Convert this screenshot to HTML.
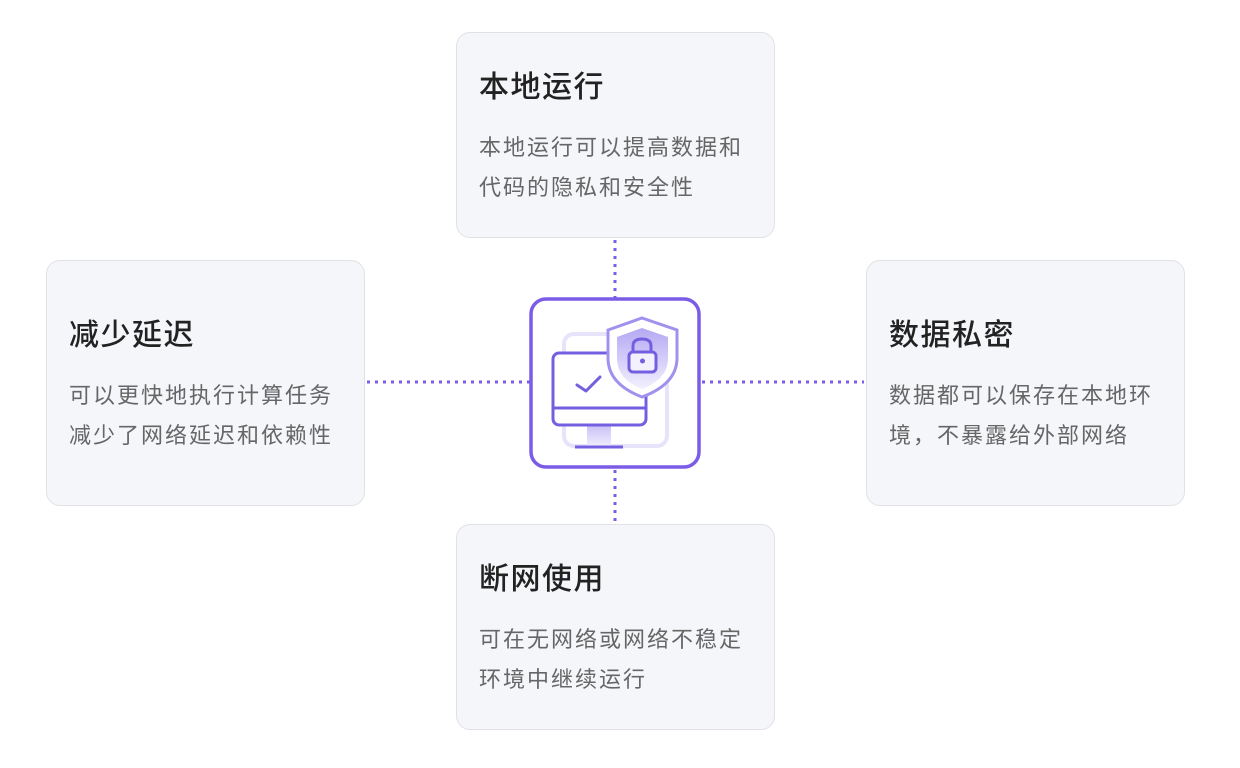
<!DOCTYPE html>
<html><head><meta charset="utf-8"><style>
body{margin:0;width:1240px;height:768px;background:#fff;position:relative;font-family:"Liberation Sans","Noto Sans CJK SC",sans-serif;overflow:hidden}
.card{position:absolute;width:319px;background:#f4f6f9;border:1.5px solid #e0e2e6;border-radius:14px;box-sizing:border-box}
.t{position:absolute;left:22px;font-size:30px;font-weight:500;color:#222;line-height:36px;white-space:nowrap;letter-spacing:1.5px}
.d{position:absolute;left:22px;font-size:22px;color:#666;line-height:40px;white-space:nowrap;letter-spacing:2px}
</style></head><body>
<svg width="1240" height="768" style="position:absolute;left:0;top:0">
<g stroke="#7b5ce6" stroke-width="3" stroke-dasharray="3 5">
<line x1="615" y1="240" x2="615" y2="298"/>
<line x1="615" y1="470" x2="615" y2="524"/>
<line x1="367" y1="382" x2="530" y2="382"/>
<line x1="702" y1="382" x2="864" y2="382"/>
</g>
</svg>
<div class="card" style="left:456px;top:32px;height:206px"><div class="t" style="top:37px">本地运行</div><div class="d" style="top:95px">本地运行可以提高数据和<br>代码的隐私和安全性</div></div>
<div class="card" style="left:46px;top:260px;height:246px"><div class="t" style="top:57px">减少延迟</div><div class="d" style="top:115px">可以更快地执行计算任务<br>减少了网络延迟和依赖性</div></div>
<div class="card" style="left:866px;top:260px;height:246px"><div class="t" style="top:57px">数据私密</div><div class="d" style="top:115px">数据都可以保存在本地环<br>境，不暴露给外部网络</div></div>
<div class="card" style="left:456px;top:524px;height:206px"><div class="t" style="top:37px">断网使用</div><div class="d" style="top:95px">可在无网络或网络不稳定<br>环境中继续运行</div></div>
<svg width="1240" height="768" style="position:absolute;left:0;top:0">
<defs>
<linearGradient id="g1" x1="0" y1="0" x2="0" y2="1"><stop offset="0" stop-color="#c9c0f7"/><stop offset="1" stop-color="#f1eefe"/></linearGradient>
<linearGradient id="g2" x1="0" y1="0" x2="0" y2="1"><stop offset="0" stop-color="#b5a8f3"/><stop offset="1" stop-color="#f3f0fe"/></linearGradient>
</defs>
<rect x="531" y="299" width="168" height="168" rx="15" fill="#fff" stroke="#7b5ce6" stroke-width="3.5"/>
<rect x="564" y="334" width="103" height="112" rx="10" fill="none" stroke="#e7e3fb" stroke-width="4"/>
<rect x="587" y="425" width="24" height="22" fill="url(#g1)"/>
<rect x="553" y="353" width="93" height="72" rx="6" fill="#fff" stroke="#7360e0" stroke-width="3"/>
<line x1="553" y1="408" x2="646" y2="408" stroke="#7360e0" stroke-width="3"/>
<line x1="575" y1="447" x2="623" y2="447" stroke="#7360e0" stroke-width="3"/>
<polyline points="577,385 586,391 600,377" fill="none" stroke="#7360e0" stroke-width="3" stroke-linecap="round" stroke-linejoin="round"/>
<path d="M642,318 L677,330 L677,358 Q677,384 642,397 Q608,384 608,358 L608,330 Z" fill="#fff" stroke="#a091ef" stroke-width="3"/>
<path d="M642,328 L668,337 L668,358 Q668,379 642,389 Q617,379 617,358 L617,337 Z" fill="url(#g2)"/>
<path d="M633,352 L633,346 Q633,339 642,339 Q651,339 651,346 L651,352" fill="none" stroke="#7360e0" stroke-width="3"/>
<rect x="629" y="352" width="27" height="20" rx="4" fill="#f4f1fe" stroke="#7360e0" stroke-width="3"/>
<circle cx="642.5" cy="361" r="2.5" fill="#7360e0"/>
</svg>
</body></html>
